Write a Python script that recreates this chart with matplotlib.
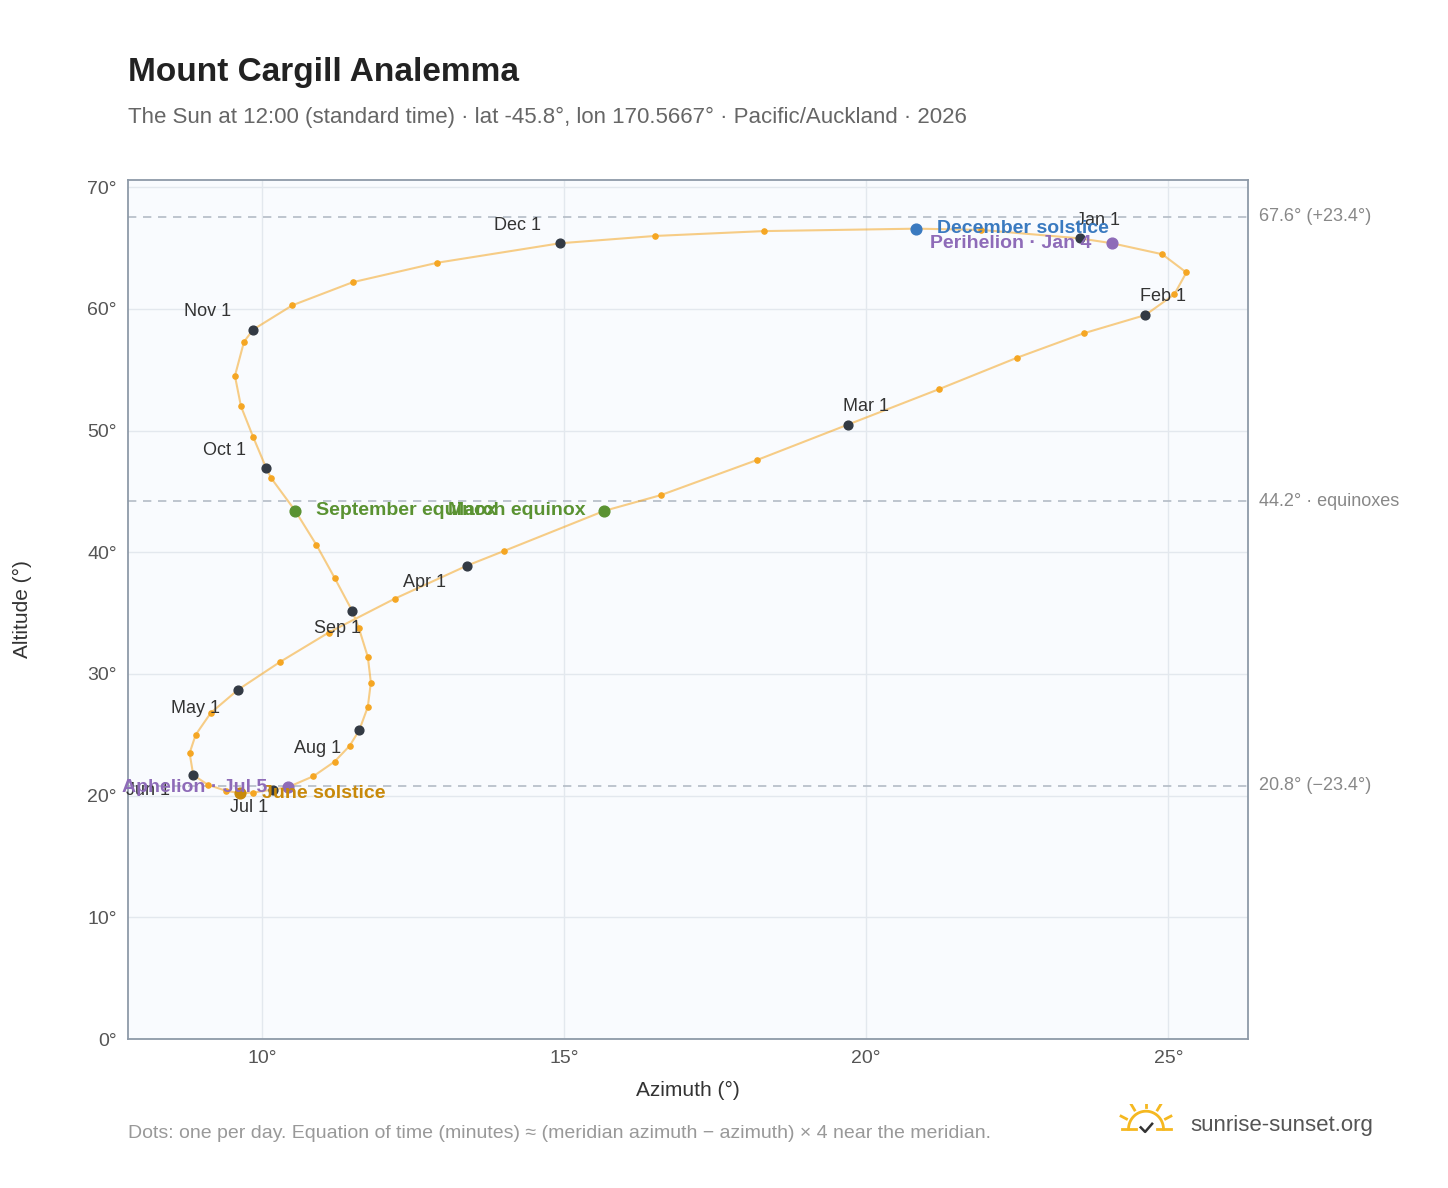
import matplotlib
matplotlib.use("Agg")
import matplotlib.pyplot as plt
import numpy as np

az = [23.54,24.07,24.9,25.3,25.1,24.62,23.6,22.5,21.2,19.70,18.2,16.6,15.66,14.0,13.39,12.2,11.1,10.3,9.60,9.15,8.9,8.8,8.86,9.1,9.4,9.64,9.85,10.18,10.43,10.85,11.2,11.45,11.61,11.75,11.8,11.75,11.6,11.49,11.2,10.9,10.55,10.15,10.07,9.85,9.65,9.55,9.7,9.85,10.5,11.5,12.9,14.93,16.5,18.3,20.83,21.9,23.54]
alt = [65.8,65.4,64.5,63.0,61.2,59.5,58.0,56.0,53.4,50.5,47.6,44.7,43.4,40.1,38.9,36.2,33.4,31.0,28.7,26.8,25.0,23.5,21.7,20.9,20.4,20.2,20.25,20.5,20.7,21.6,22.8,24.1,25.4,27.3,29.3,31.4,33.8,35.2,37.9,40.6,43.4,46.1,46.9,49.5,52.0,54.5,57.3,58.3,60.3,62.2,63.8,65.4,66.0,66.4,66.6,66.5,65.8]

months = ["Jan 1","Feb 1","Mar 1","Apr 1","May 1","Jun 1","Jul 1","Aug 1","Sep 1","Oct 1","Nov 1","Dec 1"]
month_az = [23.54,24.62,19.70,13.39,9.60,8.86,10.18,11.61,11.49,10.07,9.85,14.93]
month_alt = [65.8,59.5,50.5,38.9,28.7,21.7,20.5,25.4,35.2,46.9,58.3,65.4]
label_off = [(0.3,1.5),(0.3,1.5),(0.3,1.5),(-0.7,-1.4),(-0.7,-1.5),(-0.75,-1.3),(-0.4,-1.5),(-0.7,-1.5),(-0.25,-1.5),(-0.7,1.5),(-0.75,1.5),(-0.7,1.5)]

events = ["December solstice","Perihelion · Jan 4","March equinox","September equinox","June solstice","Aphelion · Jul 5"]
ev_az = [20.83,24.07,15.66,10.55,9.64,10.43]
ev_alt = [66.6,65.4,43.4,43.4,20.2,20.7]
ev_col = ["#3a7ac0","#8e6bb8","#5a9232","#5a9232","#c8890a","#8e6bb8"]
ev_ha = ["left","right","right","left","left","right"]
ev_dx = [0.35,-0.35,-0.3,0.35,0.35,-0.35]

ref_lines = [67.6,44.2,20.8]
ref_labels = ["67.6° (+23.4°)","44.2° · equinoxes","20.8° (−23.4°)"]

plt.rcParams['font.family'] = ['Liberation Sans','DejaVu Sans']
fig = plt.figure(figsize=(14.48,11.88), dpi=100)
ax = fig.add_axes([128/1448, 1-1039/1188, 1120/1448, 859/1188])
ax.set_facecolor("#f9fbfe")
ax.set_xlim(7.78, 26.32)
ax.set_ylim(0, 70.6)
ax.set_xticks([10,15,20,25]); ax.set_xticklabels(["10°","15°","20°","25°"])
ax.set_yticks(range(0,71,10)); ax.set_yticklabels([f"{v}°" for v in range(0,71,10)])
ax.grid(color="#e3e8ee", lw=1)
ax.set_axisbelow(True)
for s in ax.spines.values(): s.set_color("#8e9aa8"); s.set_linewidth(1.3)
ax.tick_params(colors="#555", labelsize=14, length=0, pad=8)
ax.set_xlabel("Azimuth (°)", fontsize=15, color="#333", labelpad=10)
ax.set_ylabel("Altitude (°)", fontsize=15, color="#333", labelpad=40)

for y, t in zip(ref_lines, ref_labels):
    ax.axhline(y, color="#b4bcc6", ls=(0,(5,4)), lw=1.2)
    ax.text(1.01, y/70.6, t, transform=ax.transAxes, va="center", fontsize=13, color="#888")

ax.plot(az, alt, color="#f5a623", lw=1.5, alpha=0.55, zorder=2)
ax.scatter(az, alt, s=14, color="#f5a623", zorder=3)
ax.scatter(month_az, month_alt, s=40, color="#333a44", zorder=4)
for m, x, y, (dx, dy) in zip(months, month_az, month_alt, label_off):
    ax.text(x+dx, y+dy, m, fontsize=13, color="#333", ha="center", va="center", zorder=6)
for e, x, y, c, ha, dx in zip(events, ev_az, ev_alt, ev_col, ev_ha, ev_dx):
    ax.scatter([x],[y], s=60, color=c, zorder=5)
    ax.text(x+dx, y, e, fontsize=14, color=c, weight="bold", ha=ha, va="center", zorder=6)

fig.text(128/1448, 1-73/1188, "Mount Cargill Analemma", fontsize=24, weight="bold", color="#222", va="center")
fig.text(128/1448, 1-117/1188, "The Sun at 12:00 (standard time) · lat -45.8°, lon 170.5667° · Pacific/Auckland · 2026", fontsize=16, color="#666", va="center")
fig.text(128/1448, 1-1134/1188, "Dots: one per day. Equation of time (minutes) ≈ (meridian azimuth − azimuth) × 4 near the meridian.", fontsize=14, color="#999", va="center")
fig.text(1190/1448, 1-1125/1188, "sunrise-sunset.org", fontsize=16, color="#555", va="center")
# small sun logo
lg = fig.add_axes([1118/1448, 1-1140/1188, 56/1448, 36/1188]); lg.axis("off")
lg.set_xlim(-1.6,1.6); lg.set_ylim(-0.6,1.4)
th = np.linspace(0, np.pi, 50)
lg.plot(np.cos(th), np.sin(th), color="#f5b820", lw=2)
for a in np.linspace(0.15*np.pi, 0.85*np.pi, 5):
    lg.plot([1.25*np.cos(a),1.6*np.cos(a)],[1.25*np.sin(a),1.6*np.sin(a)], color="#f5b820", lw=2)
lg.plot([-1.4,-0.6],[0,0], color="#f5b820", lw=2); lg.plot([0.6,1.4],[0,0], color="#f5b820", lw=2)
lg.plot([-0.3,-0.05,0.35],[0.1,-0.15,0.3], color="#333", lw=1.8)
fig.savefig("out.png", dpi=100)
